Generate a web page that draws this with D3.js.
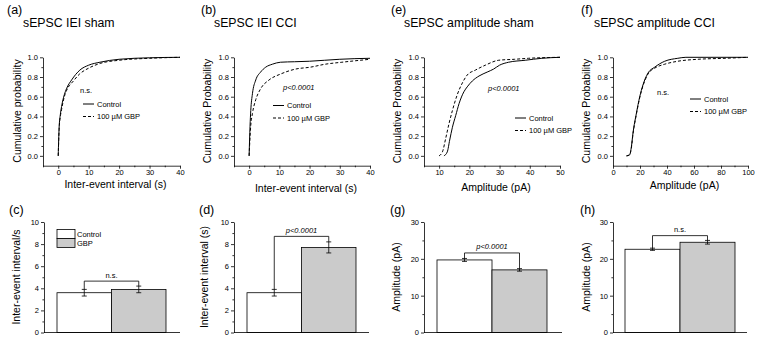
<!DOCTYPE html>
<html>
<head>
<meta charset="utf-8">
<script src="https://cdn.jsdelivr.net/npm/d3@7"></script>
<style>
  body { margin: 0; background: #fff; }
  svg { display: block; font-family: "Liberation Sans", Arial, sans-serif; }
  .axis path, .axis line { stroke: #000; stroke-width: 0.8; }
  .axis text { font-size: 7.5px; fill: #000; }
</style>
</head>
<body>
<div id="fig"></div>
<script>
// cumulative distributions: [x, probability]
const ieiShamCtrl = [[0,0],[0.3,0.29],[0.7,0.42],[1.1,0.5],[2,0.62],[2.7,0.68],[4.4,0.77],[7.1,0.87],[10,0.92],[13.7,0.95],[20,0.98],[30,0.995],[40,1]]
const ieiShamGbp  = [[0,0],[0.3,0.27],[0.7,0.4],[1.1,0.47],[2,0.6],[2.7,0.66],[5,0.76],[7,0.83],[10,0.89],[14,0.94],[20,0.97],[30,0.99],[40,1]]
const ieiCciCtrl  = [[0,0],[0.3,0.3],[0.55,0.46],[1.1,0.63],[2.2,0.77],[3.8,0.85],[5.5,0.9],[7.7,0.93],[10.4,0.95],[15,0.955],[20,0.96],[25,0.97],[30,0.98],[40,0.99]]
const ieiCciGbp   = [[0,0],[0.5,0.29],[1.1,0.43],[2.2,0.57],[3.8,0.68],[6.6,0.77],[10.4,0.83],[15.3,0.88],[20.3,0.9],[25.2,0.93],[30.7,0.95],[40,0.98]]
const ampShamCtrl = [[11.6,0],[12.7,0.04],[13.5,0.16],[14.4,0.29],[15.5,0.41],[16.6,0.53],[18.2,0.65],[19.3,0.7],[21,0.76],[23.2,0.81],[25.9,0.85],[28,0.88],[30,0.92],[33,0.95],[38.5,0.97],[44,0.99],[50,1]]
const ampShamGbp  = [[10,0],[11.1,0.04],[12.2,0.18],[13.3,0.33],[14.4,0.46],[16,0.62],[17.7,0.74],[19.3,0.82],[22,0.87],[25.3,0.92],[29.7,0.97],[35,0.98],[39.6,0.99],[50,1]]
const ampCciCtrl  = [[10,0],[12.3,0.01],[13.6,0.09],[14.8,0.23],[17.3,0.43],[19.8,0.6],[22.2,0.72],[25.9,0.84],[30.9,0.9],[38.3,0.96],[48,0.99],[54,1],[100,1]]
const ampCciGbp   = [[10,0],[12.3,0.01],[13.6,0.08],[14.8,0.22],[17.3,0.42],[19.8,0.59],[22.2,0.71],[25.9,0.83],[30.9,0.89],[38.3,0.93],[48,0.96],[63,0.98],[83,0.99],[100,1]]

// bar graphs: mean and error for Control / GBP
const barGroups    = ["Control", "GBP"]
const ieiShamMean  = [3.6, 3.9]
const ieiShamErr   = [0.3, 0.3]
const ieiCciMean   = [3.6, 7.7]
const ieiCciErr    = [0.3, 0.5]
const ampShamMean  = [19.7, 17.0]
const ampShamErr   = [0.4, 0.35]
const ampCciMean   = [22.6, 24.5]
const ampCciErr    = [0.3, 0.5]
const bracketLevel = [4.65, 8.7, 21.6, 26.3]

const probTicks  = [0, 0.2, 0.4, 0.6, 0.8, 1.0]
const probMinor  = [0.1, 0.3, 0.5, 0.7, 0.9]
const seriesNames = ["Control", "100 \u00b5M GBP"]

const W = 760, H = 338
const svg = d3.select("#fig").append("svg").attr("width", W).attr("height", H)

function txt(g, x, y, s, size, opts = {}) {
  return g.append("text").attr("x", x).attr("y", y).text(s)
    .style("font-size", size + "px")
    .attr("text-anchor", opts.anchor || "start")
    .style("font-style", opts.italic ? "italic" : "normal")
    .attr("transform", opts.rotate ? `rotate(-90,${x},${y})` : null)
}

function axisPair(g, axisFn, scale, major, minor, fmt, translate, pad = 2) {
  g.append("g").attr("class", "axis").attr("transform", translate)
    .call(axisFn(scale).tickValues(major).tickSize(3).tickPadding(pad).tickSizeOuter(0).tickFormat(fmt))
  g.append("g").attr("class", "axis").attr("transform", translate)
    .call(axisFn(scale).tickValues(minor).tickSize(1.6).tickFormat(""))
    .select(".domain").remove()
}

// ---------- top row: cumulative curves ----------
const cdfPanels = [
  {letter: "(a)", lx: 7, title: "sEPSC IEI sham", tx: 23, ylab: "Cumulative probability", ylx: 21,
   x0: 43, x1: 180, dom: [-5, 40], maj: [0,10,20,30,40], min: [-5,5,15,25,35], xlab: "Inter-event interval (s)", xly: 187.5,
   ctrl: ieiShamCtrl, gbp: ieiShamGbp, note: "n.s.", nx: 80, ny: 93, italic: false, legX: 83, legY: 104},
  {letter: "(b)", lx: 201, title: "sEPSC IEI CCI", tx: 214, ylab: "Cumulative Probability", ylx: 211,
   x0: 234, x1: 370, dom: [-5, 40], maj: [0,10,20,30,40], min: [-5,5,15,25,35], xlab: "Inter-event interval (s)", xly: 192,
   ctrl: ieiCciCtrl, gbp: ieiCciGbp, note: "p<0.0001", nx: 283, ny: 90, italic: true, legX: 273, legY: 105.5},
  {letter: "(e)", lx: 391, title: "sEPSC amplitude sham", tx: 404, ylab: "Cumulative Probability", ylx: 401,
   x0: 424, x1: 560, dom: [5, 50], maj: [10,20,30,40,50], min: [5,15,25,35,45], xlab: "Amplitude (pA)", xly: 190.5,
   ctrl: ampShamCtrl, gbp: ampShamGbp, note: "p<0.0001", nx: 488, ny: 91, italic: true, legX: 515, legY: 118},
  {letter: "(f)", lx: 581, title: "sEPSC amplitude CCI", tx: 594, ylab: "Cumulative Probability", ylx: 590,
   x0: 613, x1: 748, dom: [0, 100], maj: [0,20,40,60,80,100], min: [10,30,50,70,90], xlab: "Amplitude (pA)", xly: 189,
   ctrl: ampCciCtrl, gbp: ampCciGbp, note: "n.s.", nx: 657, ny: 95, italic: false, legX: 690, legY: 99}
]

cdfPanels.forEach(p => {
  const g = svg.append("g")
  const x = d3.scaleLinear().domain(p.dom).range([p.x0, p.x1])
  const y = d3.scaleLinear().domain([-0.1, 1.0]).range([165.7, 57.3])

  txt(g, p.lx, 14, p.letter, 12.5)
  txt(g, p.tx, 27, p.title, 12.3)

  axisPair(g, d3.axisLeft, y, probTicks, probMinor, d3.format(".1f"), `translate(${p.x0},0)`)
  axisPair(g, d3.axisBottom, x, p.maj, p.min, d3.format("d"), `translate(0,165.7)`, 1)

  txt(g, p.ylx, 111, p.ylab, 10.5, {anchor: "middle", rotate: true})
  txt(g, (p.x0 + p.x1) / 2 + 4, p.xly, p.xlab, 10.5, {anchor: "middle"})

  const line = d3.line().x(d => x(d[0])).y(d => y(d[1])).curve(d3.curveMonotoneX)
  g.append("path").datum(p.ctrl).attr("d", line)
    .attr("fill", "none").attr("stroke", "#000").attr("stroke-width", 1)
  g.append("path").datum(p.gbp).attr("d", line)
    .attr("fill", "none").attr("stroke", "#000").attr("stroke-width", 1).attr("stroke-dasharray", "3,2")

  txt(g, p.nx, p.ny, p.note, 7.5, {italic: p.italic})

  seriesNames.forEach((name, i) => {
    const ly = p.legY + i * 12.5
    g.append("line").attr("x1", p.legX).attr("x2", p.legX + 11).attr("y1", ly).attr("y2", ly)
      .attr("stroke", "#000").attr("stroke-width", 1)
      .attr("stroke-dasharray", i ? "3,2" : null)
    txt(g, p.legX + 14, ly + 2.7, name, 7.5)
  })
})

// ---------- bottom row: bar graphs ----------
const barPanels = [
  {letter: "(c)", lx: 9, ylab: "Inter-event interval/s", ylx: 20, x0: 44, x1: 180, b0: 57, b1: 166,
   ymax: 10, maj: [0,2,4,6,8,10], min: [1,3,5,7,9], mean: ieiShamMean, err: ieiShamErr, note: "n.s.", italic: false, legend: true},
  {letter: "(d)", lx: 199, ylab: "Inter-event interval (s)", ylx: 208, x0: 234, x1: 369, b0: 247, b1: 356,
   ymax: 10, maj: [0,2,4,6,8,10], min: [1,3,5,7,9], mean: ieiCciMean, err: ieiCciErr, note: "p<0.0001", italic: true},
  {letter: "(g)", lx: 390, ylab: "Amplitude (pA)", ylx: 400, x0: 424, x1: 562, b0: 437, b1: 547,
   ymax: 30, maj: [0,10,20,30], min: [5,15,25], mean: ampShamMean, err: ampShamErr, note: "p<0.0001", italic: true},
  {letter: "(h)", lx: 580, ylab: "Amplitude (pA)", ylx: 590, x0: 613, x1: 747, b0: 625, b1: 735,
   ymax: 30, maj: [0,10,20,30], min: [5,15,25], mean: ampCciMean, err: ampCciErr, note: "n.s.", italic: false}
]

const barFill = ["#ffffff", "#cbcbcb"]

barPanels.forEach((p, k) => {
  const g = svg.append("g")
  const x = d3.scaleBand().domain(barGroups).range([p.b0, p.b1]).padding(0)
  const y = d3.scaleLinear().domain([0, p.ymax]).range([332.5, 222])

  txt(g, p.lx, 214, p.letter, 12.5)

  g.selectAll("rect.bar").data(barGroups).enter().append("rect")
    .attr("x", d => x(d)).attr("width", x.bandwidth())
    .attr("y", (d, i) => y(p.mean[i])).attr("height", (d, i) => y(0) - y(p.mean[i]))
    .attr("fill", (d, i) => barFill[i]).attr("stroke", "#000").attr("stroke-width", 0.8)

  axisPair(g, d3.axisLeft, y, p.maj, p.min, d3.format("d"), `translate(${p.x0},0)`)
  g.append("line").attr("x1", p.x0).attr("x2", p.x1).attr("y1", y(0)).attr("y2", y(0))
    .attr("stroke", "#000").attr("stroke-width", 0.8)

  txt(g, p.ylx, 277, p.ylab, 10.5, {anchor: "middle", rotate: true})

  // error bars
  barGroups.forEach((d, i) => {
    const cx = x(d) + x.bandwidth() / 2
    const lo = y(p.mean[i] - p.err[i]), hi = y(p.mean[i] + p.err[i])
    g.append("line").attr("x1", cx).attr("x2", cx).attr("y1", lo).attr("y2", hi).attr("stroke", "#000").attr("stroke-width", 0.8)
    ;[lo, hi].forEach(v => g.append("line").attr("x1", cx - 2.5).attr("x2", cx + 2.5).attr("y1", v).attr("y2", v)
      .attr("stroke", "#000").attr("stroke-width", 0.8))
  })

  // significance bracket
  const cA = x(barGroups[0]) + x.bandwidth() / 2, cB = x(barGroups[1]) + x.bandwidth() / 2
  const top = y(bracketLevel[k])
  const endA = y(p.mean[0] + p.err[0]), endB = y(p.mean[1] + p.err[1])
  g.append("path").attr("d", `M${cA},${endA}V${top}H${cB}V${endB}`)
    .attr("fill", "none").attr("stroke", "#000").attr("stroke-width", 0.8)
  txt(g, (cA + cB) / 2, top - 3.5, p.note, 7.5, {anchor: "middle", italic: p.italic})

  if (p.legend) {
    barGroups.forEach((d, i) => {
      g.append("rect").attr("x", 57).attr("y", 229.5 + i * 9).attr("width", 18).attr("height", 9)
        .attr("fill", barFill[i]).attr("stroke", "#000").attr("stroke-width", 0.8)
      txt(g, 77, 237 + i * 9, d, 7.5)
    })
  }
})
</script>
</body>
</html>
